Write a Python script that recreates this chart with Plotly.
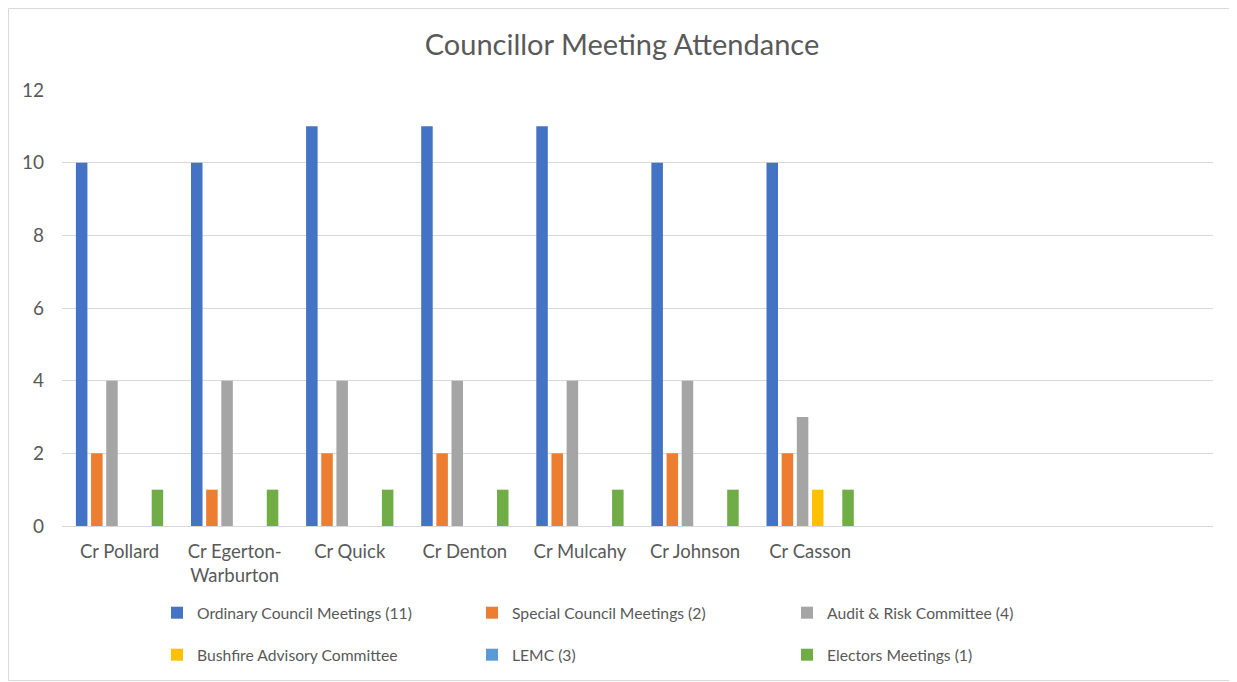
import plotly.graph_objects as go

categories = ["Cr Pollard", "Cr Egerton-<br>Warburton", "Cr Quick", "Cr Denton",
              "Cr Mulcahy", "Cr Johnson", "Cr Casson"]
ordinary = [10, 10, 11, 11, 11, 10, 10]
special = [2, 1, 2, 2, 2, 2, 2]
audit = [4, 4, 4, 4, 4, 4, 3]
bushfire = [0, 0, 0, 0, 0, 0, 1]
lemc = [0, 0, 0, 0, 0, 0, 0]
electors = [1, 1, 1, 1, 1, 1, 1]

series_names = ["Ordinary Council Meetings (11)", "Special Council Meetings (2)",
                "Audit & Risk Committee (4)", "Bushfire Advisory Committee",
                "LEMC (3)", "Electors Meetings (1)"]
series_values = [ordinary, special, audit, bushfire, lemc, electors]
colors = ["#4472C4", "#ED7D31", "#A5A5A5", "#FFC000", "#5B9BD5", "#70AD47"]
legend_ids = ["legend", "legend", "legend", "legend2", "legend2", "legend2"]

FONT = "Lato"
TXT = "#595959"

fig = go.Figure()
for name, vals, col, lg in zip(series_names, series_values, colors, legend_ids):
    fig.add_trace(go.Bar(x=categories, y=vals, name=name, marker_color=col,
                         marker_line_width=0, legend=lg))

# page body offsets the figure by 8px; positions below are given in window pixels
OFF = 8
WIN_W, WIN_H = 1237, 682
W, H = WIN_W - OFF, WIN_H - OFF
left, right, top, bottom = 62, 1213, 90, 526  # plot area in window pixels
ml = left - OFF
mt = top - OFF
mr = W - (right - OFF)
mb = H - (bottom - OFF)
pw, ph = right - left, bottom - top

def px_x(p):
    return (p - left) / pw

def px_y(p):
    return (bottom - p) / ph

leg_common = dict(orientation="h", font=dict(family=FONT, size=15.7, color=TXT),
                  entrywidth=270, entrywidthmode="pixels", bgcolor="rgba(0,0,0,0)",
                  xanchor="left", yanchor="middle", itemwidth=30)

fig.update_layout(
    width=W, height=H,
    margin=dict(l=ml, r=mr, t=mt, b=mb, autoexpand=False),
    paper_bgcolor="white", plot_bgcolor="white",
    barmode="group", bargap=0.21, bargroupgap=0.24,
    title=dict(text="Councillor Meeting Attendance", xref="paper",
               x=px_x(622), xanchor="center",
               y=1 - (45 - OFF) / H, yanchor="middle",
               font=dict(family=FONT, size=29, color=TXT)),
    font=dict(family=FONT, color=TXT),
    legend=dict(x=px_x(157), y=px_y(613), **leg_common),
    legend2=dict(x=px_x(157), y=px_y(655), **leg_common),
    xaxis=dict(type="category", categoryorder="array", categoryarray=categories,
               range=[-0.5, 9.5], showgrid=False, showline=True,
               linecolor="#D9D9D9", linewidth=1, ticks="",
               tickfont=dict(family=FONT, size=18.5, color=TXT),
               ticklabelstandoff=9),
    yaxis=dict(range=[0, 12], dtick=2, showgrid=True, gridcolor="#D9D9D9",
               gridwidth=1, zeroline=False, showline=False, ticks="",
               tickfont=dict(family=FONT, size=19, color=TXT),
               ticklabelstandoff=17),
    shapes=[dict(type="rect", xref="paper", yref="paper",
                 x0=px_x(8.5), x1=px_x(1235.5), y0=px_y(680.5), y1=px_y(8.5),
                 line=dict(color="#D9D9D9", width=1), fillcolor="rgba(0,0,0,0)",
                 layer="below")],
)

fig.write_html("out.html")
